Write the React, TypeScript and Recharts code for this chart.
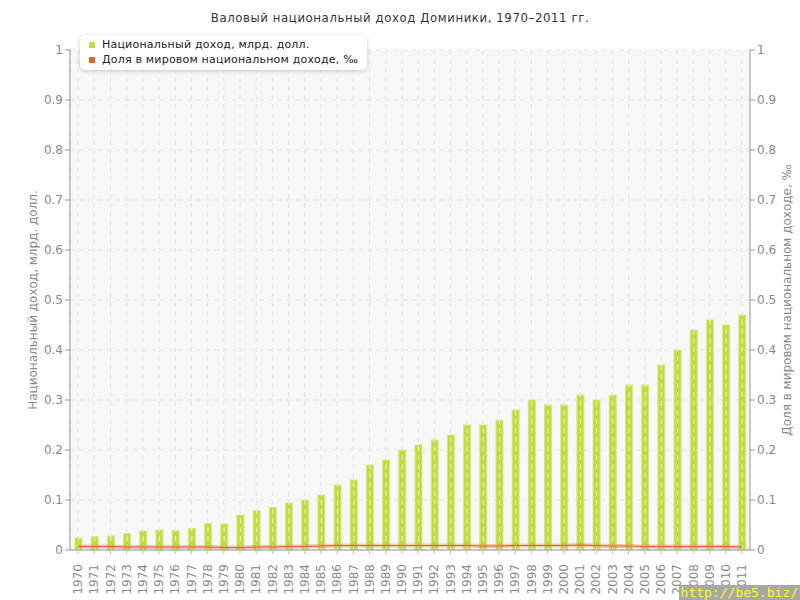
import React from 'react';
import { ComposedChart, Bar, Line, XAxis, YAxis, CartesianGrid } from 'recharts';

const years = [
  1970, 1971, 1972, 1973, 1974, 1975, 1976, 1977, 1978, 1979,
  1980, 1981, 1982, 1983, 1984, 1985, 1986, 1987, 1988, 1989,
  1990, 1991, 1992, 1993, 1994, 1995, 1996, 1997, 1998, 1999,
  2000, 2001, 2002, 2003, 2004, 2005, 2006, 2007, 2008, 2009,
  2010, 2011,
];

// национальный доход, млрд. долл.
const income = [
  0.024, 0.027, 0.028, 0.033, 0.038, 0.04, 0.039, 0.043, 0.053, 0.052,
  0.07, 0.079, 0.085, 0.094, 0.1, 0.11, 0.13, 0.14, 0.17, 0.18,
  0.2, 0.21, 0.22, 0.23, 0.25, 0.25, 0.26, 0.28, 0.3, 0.29,
  0.29, 0.31, 0.3, 0.31, 0.33, 0.33, 0.37, 0.4, 0.44, 0.46,
  0.45, 0.47,
];

// доля в мировом национальном доходе, ‰
const share = [
  0.007, 0.007, 0.007, 0.006, 0.006, 0.006, 0.006, 0.006, 0.006, 0.005,
  0.005, 0.006, 0.006, 0.007, 0.007, 0.008, 0.009, 0.009, 0.009, 0.009,
  0.009, 0.009, 0.009, 0.009, 0.009, 0.008, 0.008, 0.009, 0.009, 0.009,
  0.009, 0.01, 0.009, 0.008, 0.008, 0.007, 0.007, 0.007, 0.007, 0.007,
  0.007, 0.006,
];

const yTicks = [0, 0.1, 0.2, 0.3, 0.4, 0.5, 0.6, 0.7, 0.8, 0.9, 1];

const data = years.map((year, i) => ({ year: String(year), income: income[i], share: share[i] }));

const FONT = '"DejaVu Sans", Verdana, sans-serif';
const GREEN = '#c2dc3a';
const ORANGE = '#e2612c';
const PLOT_TOP = 50;

const YearTick = (props: any) => {
  const { x, y, payload } = props;
  return (
    <text
      x={x}
      y={y + 8}
      transform={`rotate(-90, ${x}, ${y + 8})`}
      textAnchor="end"
      dy="0.35em"
      fill="#8a8a8a"
      fontSize={12}
      fontFamily={FONT}
    >
      {payload.value}
    </text>
  );
};

// столбец + пунктир сетки поверх него (как в оригинале)
const IncomeBar = (props: any) => {
  const { x, y, width, height } = props;
  if (!height) return null;
  const cx = x + width / 2;
  return (
    <g>
      <rect x={x} y={y} width={width} height={height} fill={GREEN} stroke="#d6e98a" strokeWidth={1} />
      <line
        x1={cx}
        x2={cx}
        y1={y}
        y2={y + height}
        stroke="#ececec"
        strokeDasharray="5 4"
        strokeDashoffset={(y - PLOT_TOP) % 9}
      />
    </g>
  );
};

// легенда поверх графика, место под неё не резервируется
const LegendBox = () => (
  <div
    style={{
      position: 'absolute',
      top: 35,
      left: 80,
      background: '#fff',
      borderRadius: 5,
      boxShadow: '0 1px 4px rgba(0,0,0,0.2)',
      padding: '2px 9px 3px 9px',
      fontFamily: FONT,
      fontSize: 11,
      color: '#222',
      lineHeight: '15px',
      letterSpacing: 0.2,
    }}
  >
    <div style={{ display: 'flex', alignItems: 'center' }}>
      <span style={{ width: 6, height: 6, background: GREEN, marginRight: 7 }} />
      Национальный доход, млрд. долл.
    </div>
    <div style={{ display: 'flex', alignItems: 'center' }}>
      <span style={{ width: 6, height: 6, background: ORANGE, marginRight: 7 }} />
      Доля в мировом национальном доходе, ‰
    </div>
  </div>
);

export default function App() {
  return (
    <div style={{ position: 'absolute', left: 0, top: 0, width: 800, height: 600, background: '#fff' }}>
      <div
        style={{
          position: 'absolute',
          top: 10,
          left: 0,
          width: 800,
          textAlign: 'center',
          fontFamily: '"DejaVu Sans Condensed", "DejaVu Sans", sans-serif',
          fontSize: 13,
          letterSpacing: 0.6,
          color: '#333',
        }}
      >
        Валовый национальный доход Доминики, 1970–2011 гг.
      </div>
      <ComposedChart
        width={800}
        height={600}
        data={data}
        margin={{ top: PLOT_TOP, right: 0, bottom: 0, left: 0 }}
        barCategoryGap={0}
      >
        <CartesianGrid yAxisId="left" fill="#f8f8f8" stroke="#e4e4e4" strokeDasharray="5 4" />
        <XAxis
          dataKey="year"
          interval={0}
          height={50}
          tick={<YearTick />}
          tickSize={4}
          axisLine={{ stroke: '#999' }}
          tickLine={{ stroke: '#bbb' }}
        />
        <YAxis
          yAxisId="left"
          domain={[0, 1]}
          ticks={yTicks}
          width={70}
          tickSize={5}
          tick={{ fill: '#8a8a8a', fontSize: 12, fontFamily: FONT }}
          axisLine={{ stroke: '#999' }}
          tickLine={{ stroke: '#999' }}
          label={{
            value: 'Национальный доход, млрд. долл.',
            angle: -90,
            position: 'center',
            dx: -2,
            fill: '#8a8a8a',
            fontSize: 12,
            fontFamily: FONT,
          }}
        />
        <YAxis
          yAxisId="right"
          orientation="right"
          domain={[0, 1]}
          ticks={yTicks}
          width={50}
          tickSize={5}
          tick={{ fill: '#8a8a8a', fontSize: 12, fontFamily: FONT }}
          axisLine={{ stroke: '#999' }}
          tickLine={{ stroke: '#999' }}
          label={{
            value: 'Доля в мировом национальном доходе, ‰',
            angle: -90,
            position: 'center',
            dx: 12,
            fill: '#8a8a8a',
            fontSize: 12,
            fontFamily: FONT,
          }}
        />
        <Bar
          yAxisId="left"
          dataKey="income"
          barSize={7}
          fill={GREEN}
          shape={<IncomeBar />}
          isAnimationActive={false}
        />
        <Line
          yAxisId="right"
          dataKey="share"
          stroke="rgba(238,140,100,0.45)"
          strokeWidth={4}
          dot={false}
          legendType="none"
          isAnimationActive={false}
        />
        <Line
          yAxisId="right"
          dataKey="share"
          stroke={ORANGE}
          strokeWidth={1.2}
          dot={false}
          isAnimationActive={false}
        />
      </ComposedChart>
      <LegendBox />
      <div
        style={{
          position: 'absolute',
          right: 0,
          bottom: 0,
          background: '#a8a8a8',
          color: '#ffff00',
          fontFamily: '"DejaVu Sans Mono", monospace',
          fontSize: 13,
          padding: '0 2px',
          lineHeight: '15px',
        }}
      >
        http://be5.biz/
      </div>
    </div>
  );
}
